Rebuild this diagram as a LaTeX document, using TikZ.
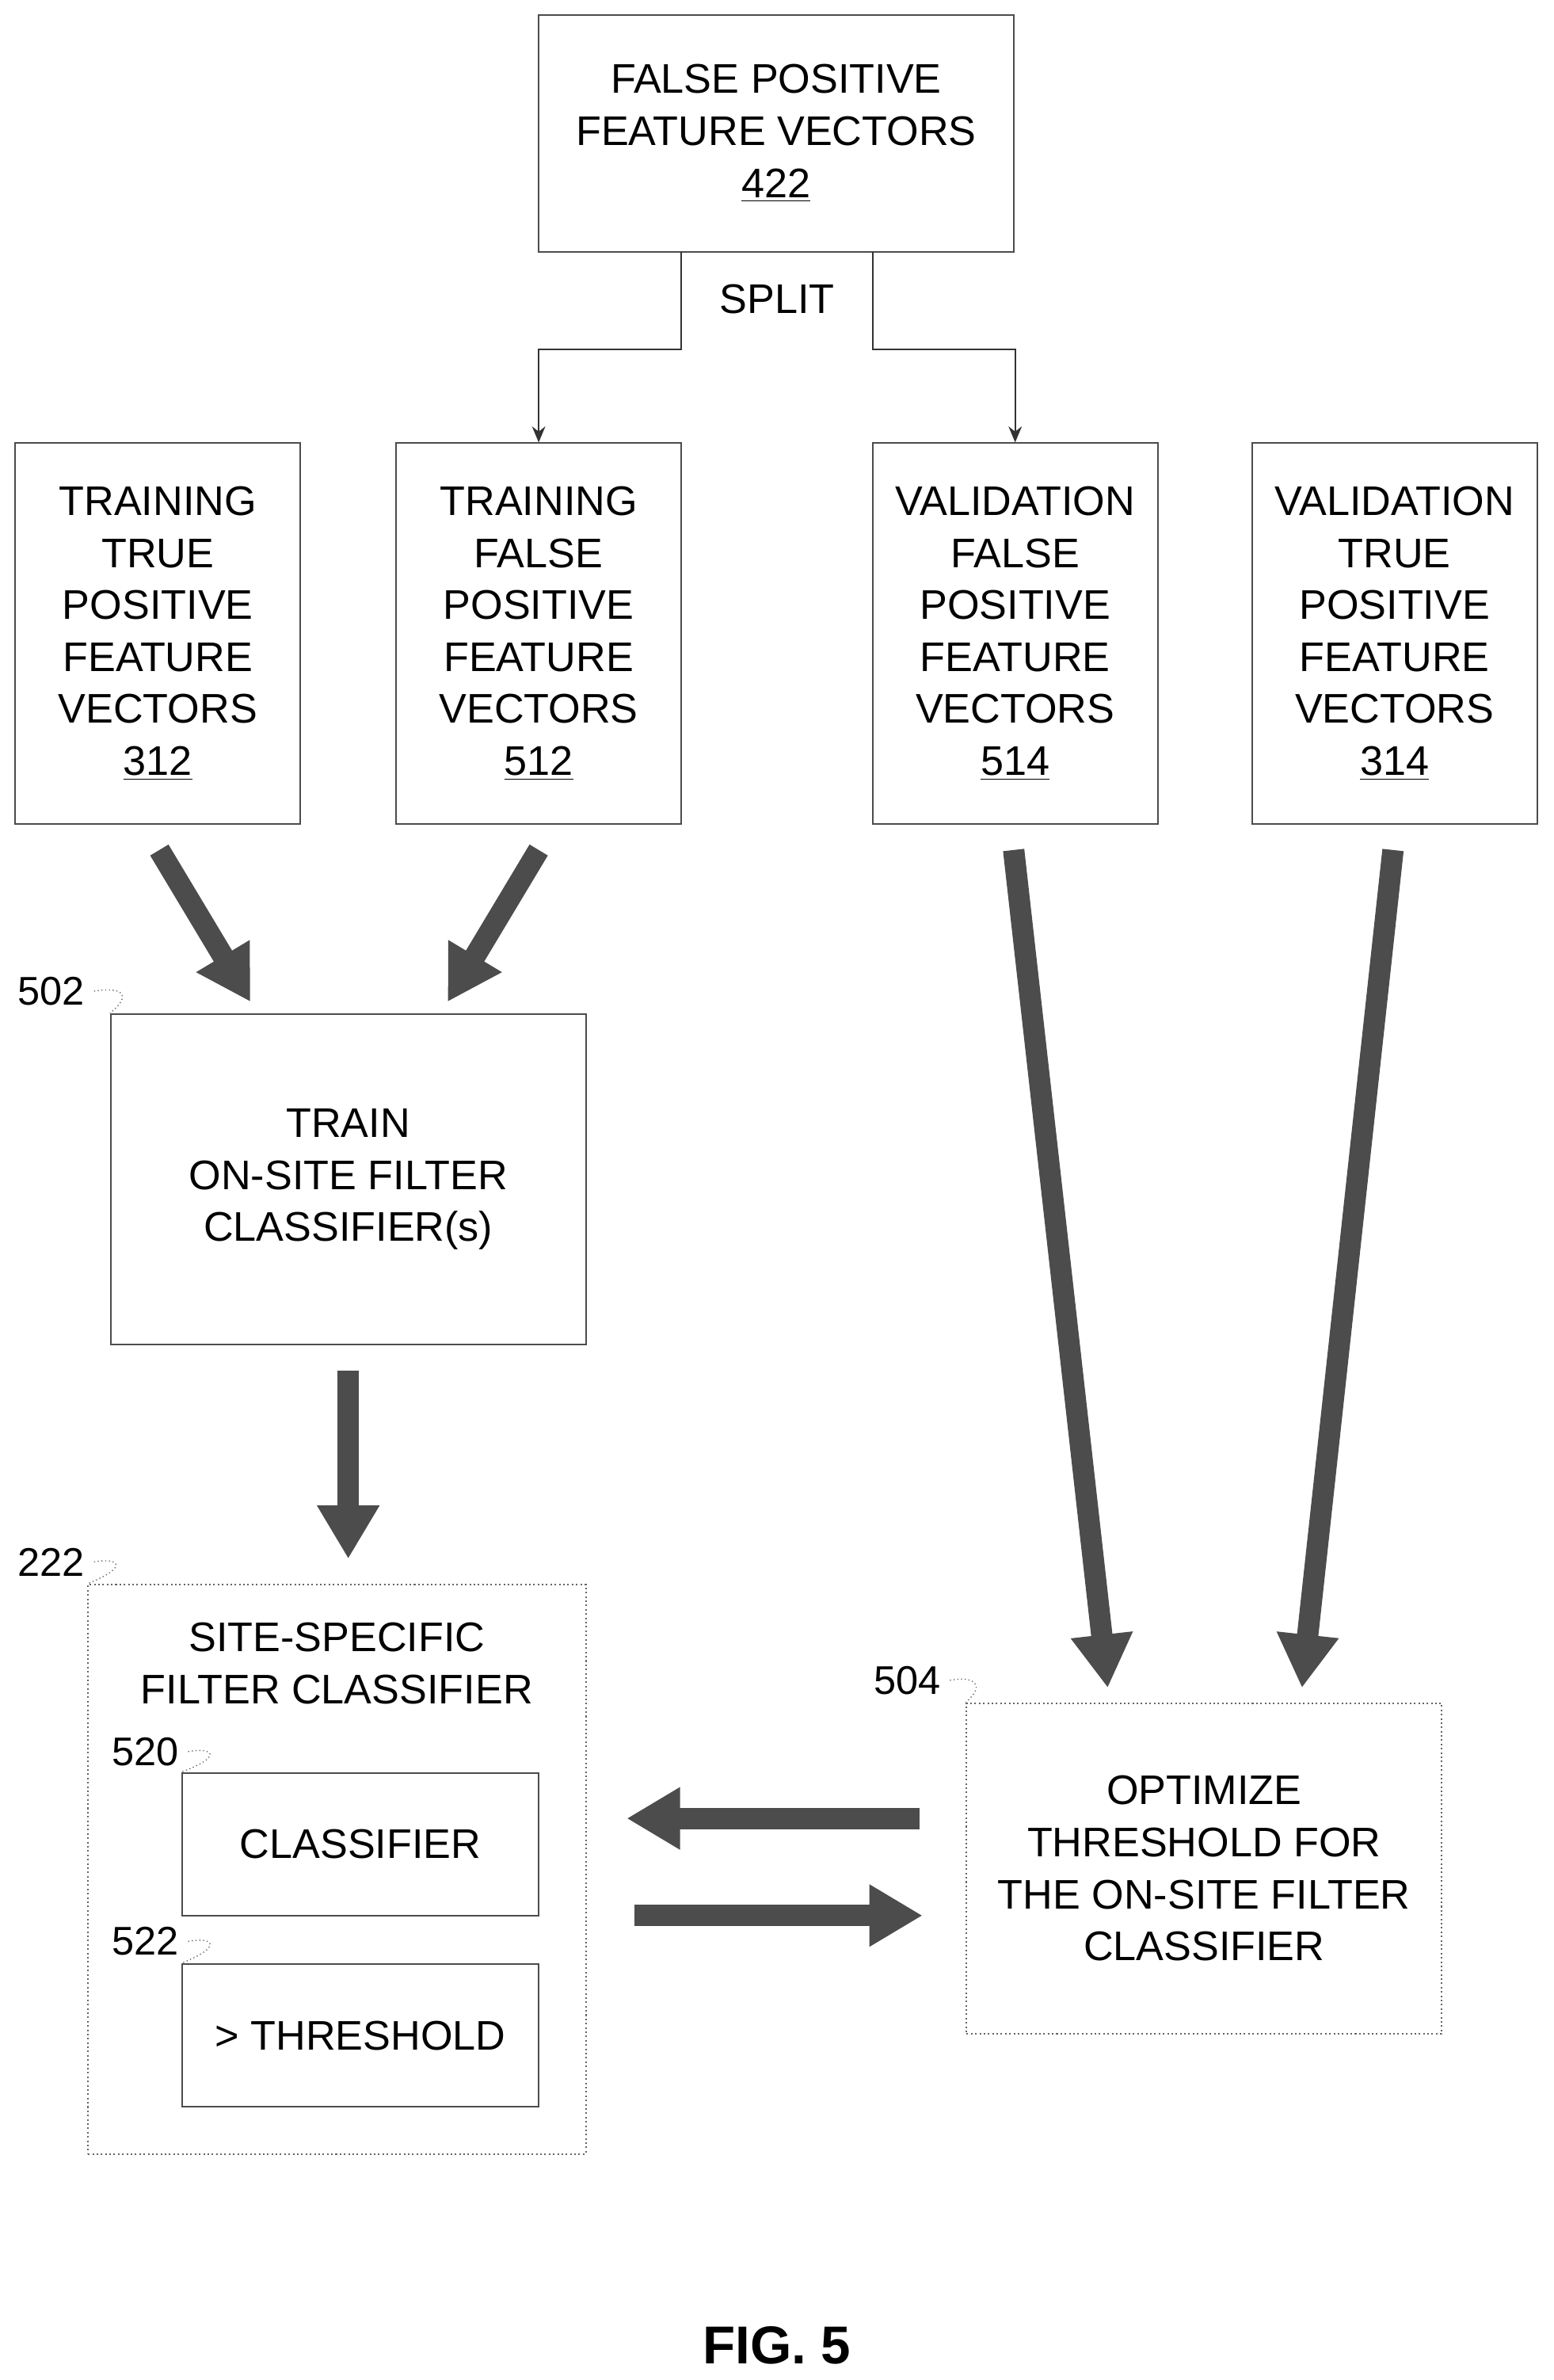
\documentclass[tikz,border=0pt]{standalone}
\usepackage{fontspec}
\setmainfont{Liberation Sans}
\usetikzlibrary{arrows.meta,positioning,calc}
\tikzset{
  >=Stealth,
  every node/.append style={font=\fontsize{15.5}{19.5}\selectfont},
}
\begin{document}
\begin{tikzpicture}[
  x=0.02cm, y=-0.02cm,
  box/.style={draw=black!70, line width=0.6pt, align=center, inner sep=0pt},
  dbox/.style={draw=black!60, densely dotted, line width=0.6pt, align=center, inner sep=0pt},
  thin arrow/.style={-{Stealth[length=6pt,width=5pt]}, line width=0.6pt, draw=black!80},
  big arrow/.style={-{Triangle[length=20pt,width=22pt]}, line width=8pt, draw=black!70},
  ref/.style={font=\fontsize{15}{18}\selectfont, anchor=east}
]
\useasboundingbox (0,0) rectangle (1024,1568);

% --- Top: false positive vectors ---
\node[box, minimum width=313*0.02cm, minimum height=156*0.02cm] (fp) at (511.5,88)
  {FALSE POSITIVE\\FEATURE VECTORS\\\underline{422}};
\node (split) at (512,197) {SPLIT};

% --- Row of feature vector boxes ---
\node[box, minimum width=188*0.02cm, minimum height=251*0.02cm] (ttp) at (104,417.5)
  {TRAINING\\TRUE\\POSITIVE\\FEATURE\\VECTORS\\\underline{312}};
\node[box, minimum width=188*0.02cm, minimum height=251*0.02cm] (tfp) at (355,417.5)
  {TRAINING\\FALSE\\POSITIVE\\FEATURE\\VECTORS\\\underline{512}};
\node[box, minimum width=188*0.02cm, minimum height=251*0.02cm] (vfp) at (669,417.5)
  {VALIDATION\\FALSE\\POSITIVE\\FEATURE\\VECTORS\\\underline{514}};
\node[box, minimum width=188*0.02cm, minimum height=251*0.02cm] (vtp) at (919,417.5)
  {VALIDATION\\TRUE\\POSITIVE\\FEATURE\\VECTORS\\\underline{314}};

% --- Split connectors ---
\coordinate (sl) at (449,166);
\coordinate (sr) at (575,166);
\draw[thin arrow] (sl) -- (449,230) -- (355,230) -- (tfp.north);
\draw[thin arrow] (sr) -- (575,230) -- (669,230) -- (vfp.north);

% --- Train classifier ---
\node[box, minimum width=313*0.02cm, minimum height=218*0.02cm] (train) at (229.5,777)
  {TRAIN\\ON-SITE FILTER\\CLASSIFIER(s)};
\node[ref] (l502) at (62,653) {502};
\draw[densely dotted, black!60] (l502.east) .. controls (80,650) and (88,655) .. (train.north west);

% --- Site-specific filter classifier ---
\node[dbox, minimum width=328*0.02cm, minimum height=375*0.02cm] (site) at (222,1231.5) {};
\node[align=center] (sitet) at (222,1096) {SITE-SPECIFIC\\FILTER CLASSIFIER};
\node[ref] (l222) at (62,1029) {222};
\draw[densely dotted, black!60] (l222.east) .. controls (78,1026) and (86,1032) .. (site.north west);
\node[box, minimum width=235*0.02cm, minimum height=94*0.02cm] (clf) at (237.5,1215) {CLASSIFIER};
\node[ref] (l520) at (124,1154) {520};
\draw[densely dotted, black!60] (l520.east) .. controls (140,1151) and (148,1157) .. (clf.north west);
\node[box, minimum width=235*0.02cm, minimum height=94*0.02cm] (thr) at (237.5,1341) {> THRESHOLD};
\node[ref] (l522) at (124,1279) {522};
\draw[densely dotted, black!60] (l522.east) .. controls (140,1276) and (148,1282) .. (thr.north west);

% --- Optimize threshold ---
\node[dbox, minimum width=313*0.02cm, minimum height=218*0.02cm] (opt) at (793.5,1231)
  {OPTIMIZE\\THRESHOLD FOR\\THE ON-SITE FILTER\\CLASSIFIER};
\node[ref] (l504) at (626,1107) {504};
\draw[densely dotted, black!60] (l504.east) .. controls (642,1104) and (650,1110) .. (opt.north west);

% --- Big arrows ---
\draw[big arrow] (105,560) -- (165,660);
\draw[big arrow] (355,560) -- (295,660);
\draw[big arrow] (668,560) -- (730,1112);
\draw[big arrow] (918,560) -- (858,1112);
\draw[big arrow] (train.south |- 0,903) -- (229.5,1027);
\draw[big arrow] (606,1198) -- (413,1198);
\draw[big arrow] (418,1262) -- (608,1262);

% --- Figure label ---
\node[font=\bfseries\fontsize{20}{24}\selectfont] (fig) at (512,1545) {FIG. 5};
\end{tikzpicture}
\end{document}
